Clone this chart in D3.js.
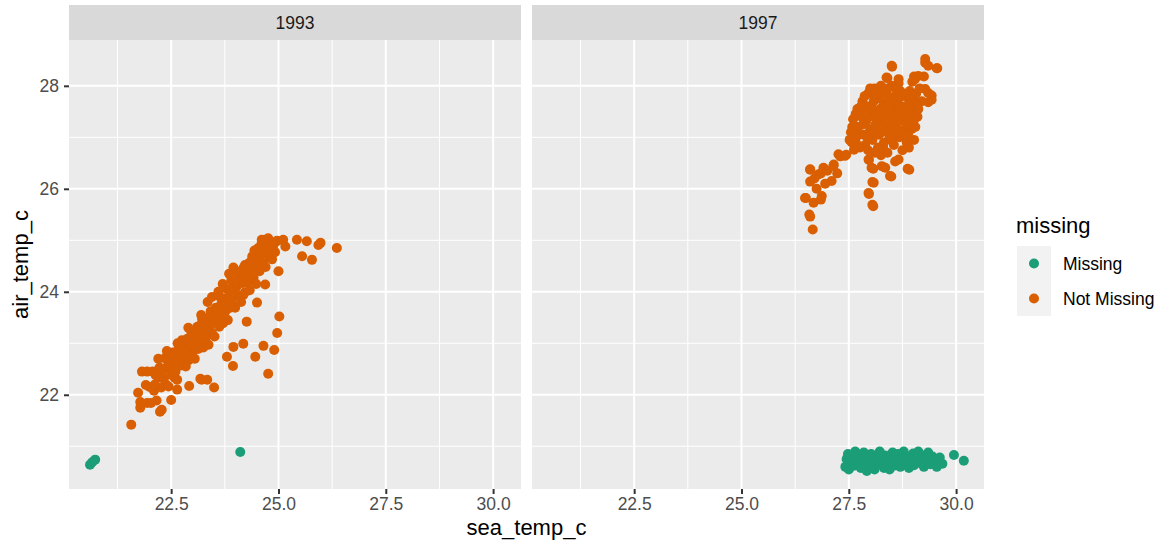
<!DOCTYPE html>
<html>
<head>
<meta charset="utf-8">
<script src="https://cdn.jsdelivr.net/npm/d3@7"></script>
<style>
  body { margin: 0; background: #fff; }
  svg { font-family: "Liberation Sans", Arial, Helvetica, sans-serif; }
</style>
</head>
<body>
<svg id="chart" width="1169" height="546"></svg>
<script>
// facets and legend levels
const years = ["1993", "1997"];
const statusLevels = ["Missing", "Not Missing"];
const statusColors = ["#1B9E77", "#D95F02"];

const xTicks = [22.5, 25.0, 27.5, 30.0];
const yTicks = [22, 24, 26, 28];
const xMinor = [21.25, 23.75, 26.25, 28.75];
const yMinor = [21, 23, 25, 27];

// [sea_temp_c, air_temp_c]
const notMissing1993 = [
  // tail and scattered points
  [21.57,21.42],[21.73,22.04],[21.78,21.86],[21.78,21.75],[21.94,21.84],[21.91,22.19],[21.82,22.45],[21.94,22.45],
  [22.24,21.67],[22.28,21.71],[22.5,21.9],[22.64,22.1],[22.92,22.17],[23.21,22.29],[23.34,22.29],[23.18,22.31],
  [23.5,22.14],[23.8,22.74],[23.94,22.56],[23.95,22.93],[24.18,22.99],[24.46,22.74],[24.65,22.95],[24.76,22.41],
  [24.9,22.87],[24.97,23.2],[25.02,23.52],[24.26,23.42],[24.5,23.79],[24.18,23.94],[24.69,24.14],[25.0,24.4],
  [25.16,24.88],[25.11,25.01],[24.96,24.98],[25.43,25.01],[25.66,24.98],[25.93,24.91],[25.98,24.95],[26.36,24.85],
  [25.55,24.69],[25.78,24.62],[24.69,25.01],[24.61,24.95],[24.53,24.78],[24.4,24.65],
  // main band
  [22.0,22.15],[22.03,21.84],[22.07,22.45],[22.1,22.08],[22.14,22.38],[22.16,21.89],[22.21,22.34],[22.23,22.53],
  [22.27,22.14],[22.3,22.33],[22.33,22.31],[22.35,22.71],[22.39,22.19],[22.42,22.56],[22.44,22.16],[22.47,22.69],
  [22.5,22.39],[22.53,22.82],[22.56,22.54],[22.58,22.33],[22.62,22.77],[22.64,22.29],[22.67,22.89],[22.7,22.71],
  [22.73,22.57],[22.75,23.06],[22.79,22.69],[22.82,22.9],[22.84,22.55],[22.88,23.09],[22.91,22.67],[22.93,22.94],
  [22.97,23.22],[23.0,22.83],[23.02,23.12],[23.05,22.7],[23.08,23.04],[23.11,23.32],[23.13,22.89],[23.16,23.21],
  [23.2,23.06],[23.22,23.47],[23.25,22.92],[23.28,23.27],[23.31,23.12],[23.33,23.46],[23.37,22.97],[23.4,23.33],
  [23.42,23.62],[23.45,23.2],[23.48,23.52],[23.51,23.13],[23.54,23.69],[23.56,23.42],[23.6,23.68],[23.62,23.32],
  [23.65,23.89],[23.68,23.65],[23.71,23.39],[23.74,23.87],[23.77,23.63],[23.8,24.05],[23.82,23.45],[23.85,23.91],
  [23.88,23.69],[23.9,24.22],[23.93,23.9],[23.96,24.16],[23.99,23.69],[24.02,24.1],[24.04,24.37],[24.07,23.92],
  [24.1,24.27],[24.13,23.8],[24.16,24.17],[24.19,24.47],[24.22,23.99],[24.25,24.35],[24.28,24.18],[24.3,24.55],
  [24.33,24.03],[24.36,24.43],[24.39,24.69],[24.42,24.27],[24.45,24.61],[24.48,24.15],[24.5,24.53],[24.53,24.85],
  [24.56,24.4],[24.59,24.77],[24.61,25.01],[24.64,24.56],[24.67,24.92],[24.7,24.48],[24.73,24.8],[24.76,25.04],
  [24.79,24.67],[24.82,24.93],[24.85,24.63],[24.88,24.9],[24.92,24.77],[24.97,24.99],
  // upper edge of the band
  [22.2,22.7],[22.4,22.85],[22.65,23.0],[22.9,23.3],[23.2,23.55],[23.35,23.8],[23.45,23.9],[23.6,24.0],
  [23.7,24.15],[23.85,24.35],[23.95,24.47],[24.11,24.33],[24.22,24.52],
  // band core
  [22.12,22.2],[22.25,22.4],[22.37,22.5],[22.48,22.55],[22.55,22.65],[22.6,22.45],[22.68,22.6],[22.77,22.85],
  [22.86,22.8],[22.95,23.0],[23.04,22.95],[23.1,23.15],[23.18,23.35],[23.27,23.1],[23.34,23.3],[23.39,23.5],
  [23.47,23.4],[23.53,23.6],[23.58,23.5],[23.66,23.75],[23.73,23.55],[23.79,23.8],[23.86,24.05],[23.91,23.8],
  [23.98,24.0],[24.05,24.2],[24.12,24.4],[24.18,24.25],[24.24,24.5],[24.31,24.4],[24.37,24.6],[24.44,24.8],
  [24.47,24.45],[24.55,24.65],[24.6,24.85],[24.66,24.75],[24.71,24.95],[24.78,24.85],[24.83,24.75],[24.9,24.95]
];
const missing1993 = [[20.61,20.64],[20.66,20.69],[20.73,20.74],[24.11,20.89]];

const notMissing1997 = [
  [26.66,25.21],[26.6,25.46],[26.58,25.5],[26.48,25.82],[26.5,25.82],[26.68,25.73],[26.85,25.79],[26.87,25.86],
  [26.6,26.14],[26.6,26.37],[26.6,26.38],[26.79,26.28],[26.85,26.3],[26.91,26.41],[27.1,26.15],[27.14,26.44],
  [27.23,26.3],[27.15,26.47],[27.26,26.67],[27.3,26.63],[27.41,26.64],[27.44,26.66],[27.57,26.9],[27.62,26.76],
  [26.7,26.2],[26.75,26.0],[26.95,26.1],[27.0,26.35],
  [27.96,26.57],[27.97,26.56],[28.03,26.41],[28.07,26.39],[28.05,26.13],[28.08,26.12],[27.96,25.92],[27.97,25.9],
  [28.05,25.69],[28.07,25.66],[28.27,26.44],[28.35,26.41],[28.46,26.25],[28.49,26.24],[28.58,26.53],[28.66,26.57],
  [28.87,26.39],[28.91,26.37],[28.85,26.9],[28.97,27.16],
  [28.03,27.84],[28.08,27.86],[28.38,28.16],[28.4,28.15],[28.5,28.39],[28.51,28.37],[28.66,28.13],[28.66,28.05],
  [28.98,28.08],[29.02,28.18],[29.04,28.13],[29.12,28.19],[29.25,28.18],[29.28,28.45],[29.28,28.52],[29.35,28.39],
  [29.55,28.34],[29.56,28.34],[29.28,27.94],[29.35,27.86],[29.43,27.81],[29.43,27.73],[29.35,27.68],[29.04,27.48],
  [27.55,27.1],[27.6,27.35],[27.65,26.95],[27.7,27.55],[27.72,27.2],[27.75,26.8],[27.8,27.4],[27.82,27.7],
  [27.85,27.05],[27.88,26.85],[27.9,27.3],[27.92,27.6],[27.95,27.85],[28.0,27.15],[28.02,27.45],[28.05,26.95],
  [28.08,27.7],[28.1,27.95],[28.12,27.25],[28.15,27.5],[28.18,26.8],[28.2,27.05],[28.22,27.75],[28.25,28.0],
  [28.28,27.35],[28.3,27.6],[28.32,26.9],[28.35,27.15],[28.38,27.85],[28.4,27.45],[28.42,27.7],[28.45,27.0],
  [28.48,27.3],[28.5,28.0],[28.52,27.55],[28.55,26.85],[28.58,27.8],[28.6,27.2],[28.62,27.45],[28.65,27.65],
  [28.68,27.0],[28.7,27.9],[28.72,27.35],[28.75,26.75],[28.78,27.6],[28.8,27.15],[28.82,27.8],[28.85,27.4],
  [28.88,27.05],[28.9,27.65],[28.92,27.9],[28.95,27.3],[28.98,27.55],[29.0,27.75],[29.02,26.95],[29.05,27.2],
  [29.08,27.6],[29.1,27.4],[27.85,27.55],[28.1,26.7],[28.25,26.65],[28.15,27.2],[28.45,27.5],[28.6,27.95],
  [28.35,27.4],[27.7,26.85],[28.0,27.95],[28.2,27.5],
  [27.52,26.95],[27.58,27.2],[27.66,27.45],[27.74,27.05],[27.78,27.6],[27.83,27.25],[27.87,27.8],[27.93,27.0],
  [27.98,27.4],[28.03,27.6],[28.07,27.1],[28.11,27.4],[28.14,27.85],[28.19,27.3],[28.23,27.55],[28.27,27.1],
  [28.29,27.9],[28.33,27.5],[28.37,27.25],[28.41,27.95],[28.44,27.65],[28.47,27.15],[28.53,27.4],[28.57,27.05],
  [28.61,27.7],[28.64,27.3],[28.69,27.55],[28.73,27.8],[28.76,27.1],[28.81,27.5],[28.84,27.25],[28.89,27.85],
  [28.93,27.45],[28.97,27.75],[29.03,27.35],[29.07,27.85],[29.12,27.55],[29.15,27.95],[29.2,27.7],[28.3,26.8],
  [28.5,26.95],[27.95,26.75],[28.9,26.8],[28.4,26.7]
];
const missing1997 = [
  [27.42,20.6],[27.45,20.75],[27.48,20.85],[27.5,20.55],[27.55,20.7],[27.58,20.82],[27.62,20.62],[27.65,20.9],
  [27.7,20.68],[27.72,20.8],[27.78,20.58],[27.8,20.75],[27.85,20.88],[27.88,20.65],[27.92,20.52],[27.95,20.78],
  [28.0,20.62],[28.02,20.85],[28.08,20.7],[28.1,20.55],[28.15,20.8],[28.2,20.65],[28.22,20.9],[28.28,20.72],
  [28.32,20.58],[28.35,20.82],[28.4,20.68],[28.45,20.55],[28.48,20.78],[28.52,20.88],[28.55,20.62],[28.6,20.72],
  [28.65,20.85],[28.7,20.6],[28.72,20.75],[28.78,20.9],[28.82,20.66],[28.85,20.8],[28.9,20.58],[28.95,20.72],
  [29.0,20.86],[29.02,20.63],[29.08,20.78],[29.12,20.9],[29.15,20.68],[29.2,20.82],[29.25,20.6],[29.3,20.75],
  [29.35,20.88],[29.4,20.65],[29.45,20.8],[29.5,20.7],[29.55,20.6],[29.62,20.78],[29.68,20.66],[29.95,20.83],
  [30.18,20.72]
];

const panelData = {
  "1993": [{status: "Missing", pts: missing1993}, {status: "Not Missing", pts: notMissing1993}],
  "1997": [{status: "Missing", pts: missing1997}, {status: "Not Missing", pts: notMissing1997}]
};

var svg = d3.select("#chart");
var color = d3.scaleOrdinal().domain(statusLevels).range(statusColors);

var panelX = [69, 532];
var panelW = 452;
var panelTop = 40, panelBottom = 489;
var stripTop = 5;

var y = d3.scaleLinear().domain([20.17, 28.89]).range([panelBottom, panelTop]);

years.forEach(function(yr, i) {
  var x = d3.scaleLinear().domain([20.12, 30.65]).range([panelX[i], panelX[i] + panelW]);
  var g = svg.append("g");

  // strip
  g.append("rect").attr("x", panelX[i]).attr("y", stripTop)
    .attr("width", panelW).attr("height", panelTop - stripTop).attr("fill", "#d9d9d9");
  g.append("text").attr("x", panelX[i] + panelW / 2).attr("y", (stripTop + panelTop) / 2)
    .attr("text-anchor", "middle").attr("dominant-baseline", "central")
    .attr("font-size", 17.5).attr("fill", "#1a1a1a").text(yr);

  // panel background
  g.append("rect").attr("x", panelX[i]).attr("y", panelTop)
    .attr("width", panelW).attr("height", panelBottom - panelTop).attr("fill", "#ebebeb");

  // grid
  g.selectAll(".vminor").data(xMinor).enter().append("line")
    .attr("x1", d => x(d)).attr("x2", d => x(d)).attr("y1", panelTop).attr("y2", panelBottom)
    .attr("stroke", "#fff").attr("stroke-width", 1);
  g.selectAll(".hminor").data(yMinor).enter().append("line")
    .attr("y1", d => y(d)).attr("y2", d => y(d)).attr("x1", panelX[i]).attr("x2", panelX[i] + panelW)
    .attr("stroke", "#fff").attr("stroke-width", 1);
  g.selectAll(".vmajor").data(xTicks).enter().append("line")
    .attr("x1", d => x(d)).attr("x2", d => x(d)).attr("y1", panelTop).attr("y2", panelBottom)
    .attr("stroke", "#fff").attr("stroke-width", 2);
  g.selectAll(".hmajor").data(yTicks).enter().append("line")
    .attr("y1", d => y(d)).attr("y2", d => y(d)).attr("x1", panelX[i]).attr("x2", panelX[i] + panelW)
    .attr("stroke", "#fff").attr("stroke-width", 2);

  // points
  panelData[yr].forEach(function(s) {
    g.selectAll(null).data(s.pts).enter().append("circle")
      .attr("cx", d => x(d[0])).attr("cy", d => y(d[1])).attr("r", 5)
      .attr("fill", color(s.status));
  });

  // x axis
  var xa = svg.append("g").attr("transform", "translate(0," + panelBottom + ")")
    .call(d3.axisBottom(x).tickValues(xTicks).tickSize(5).tickPadding(4).tickFormat(d3.format(".1f")));
  xa.select(".domain").remove();
  xa.selectAll("line").attr("stroke", "#333").attr("stroke-width", 2);
  xa.selectAll("text").attr("fill", "#4d4d4d").attr("font-size", 17.5)
    .attr("font-family", "Liberation Sans, Arial, sans-serif");
});

// y axis (left panel only)
var ya = svg.append("g").attr("transform", "translate(" + panelX[0] + ",0)")
  .call(d3.axisLeft(y).tickValues(yTicks).tickSize(5).tickPadding(5));
ya.select(".domain").remove();
ya.selectAll("line").attr("stroke", "#333").attr("stroke-width", 2);
ya.selectAll("text").attr("fill", "#4d4d4d").attr("font-size", 17.5)
  .attr("font-family", "Liberation Sans, Arial, sans-serif");

// axis titles
svg.append("text").attr("x", (panelX[0] + panelX[1] + panelW) / 2).attr("y", 535)
  .attr("text-anchor", "middle").attr("font-size", 22).attr("fill", "#000").text("sea_temp_c");
svg.append("text").attr("transform", "translate(28," + (panelTop + panelBottom) / 2 + ") rotate(-90)")
  .attr("text-anchor", "middle").attr("font-size", 22).attr("fill", "#000").text("air_temp_c");

// legend
var lg = svg.append("g").attr("transform", "translate(1016,0)");
lg.append("text").attr("x", 0).attr("y", 233).attr("font-size", 22).attr("fill", "#000").text("missing");
lg.append("rect").attr("x", 1).attr("y", 246).attr("width", 34).attr("height", 70).attr("fill", "#f2f2f2");
statusLevels.forEach(function(s, i) {
  lg.append("circle").attr("cx", 18).attr("cy", 263.5 + i * 35).attr("r", 5).attr("fill", color(s));
  lg.append("text").attr("x", 47).attr("y", 263.5 + i * 35).attr("dominant-baseline", "central")
    .attr("font-size", 17.5).attr("fill", "#000").text(s);
});
</script>
</body>
</html>
